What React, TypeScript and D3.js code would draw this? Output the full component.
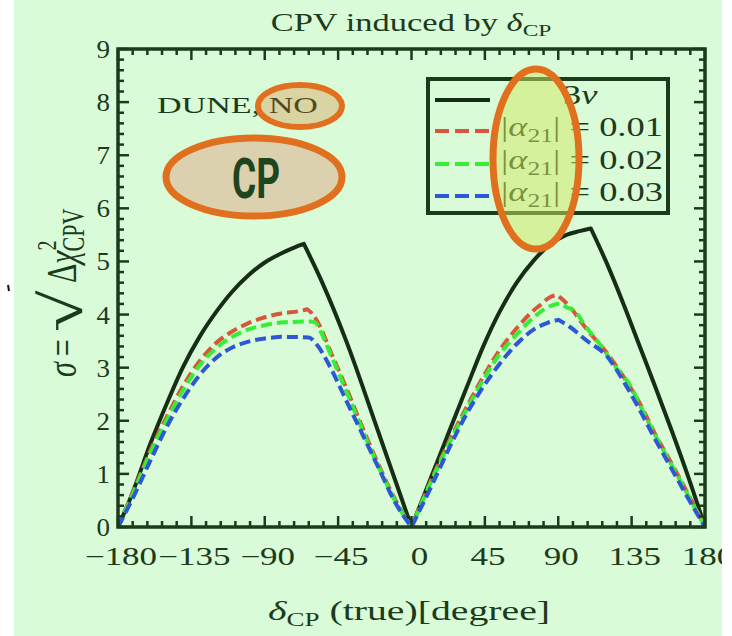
import React from 'react';
import * as d3 from 'd3';

// ---- data ----
const deltaBlack = [-180,-172,-160,-150,-140,-130,-120,-110,-100,-90,-80,-72,-66,-55,-40,-20,-10,0,13,23.5,34,44,54,64.5,75,85,95,103,110,120,130,140,150,160,170,180];
const sigmaBlack = [0,0.57,1.58,2.33,3.02,3.58,4.04,4.43,4.74,4.98,5.15,5.26,5.33,4.62,3.50,1.76,0.88,0,1.01,1.83,2.64,3.40,4.05,4.60,5.02,5.32,5.50,5.57,5.62,4.95,4.20,3.40,2.60,1.78,0.92,0];

const deltaA1 = [-180,-170,-160,-150,-140,-130,-120,-110,-100,-90,-80,-68,-64,-61,-56,-50,-40,-30,-20,-10,0,13,23.5,34,44,54,65,75,79,84,89,92,97,107,120,130,140,150,160,170,180];
const sigmaA1 = [0,0.72,1.45,2.08,2.66,3.12,3.46,3.68,3.84,3.95,4.02,4.07,4.10,4.02,3.77,3.33,2.62,1.87,1.16,0.52,0,0.95,1.64,2.27,2.83,3.33,3.76,4.08,4.18,4.31,4.37,4.30,4.15,3.74,3.27,2.83,2.33,1.72,1.17,0.60,0];

const deltaA2 = [-180,-170,-160,-150,-140,-130,-120,-110,-100,-90,-80,-62,-59,-56,-50,-40,-30,-20,-10,0,13,23.5,34,44,54,65,75,83,91,95,100,107,115,125,135,140,150,160,170,180];
const sigmaA2 = [0,0.68,1.40,2.02,2.58,3.04,3.36,3.58,3.72,3.80,3.85,3.87,3.85,3.70,3.28,2.56,1.82,1.12,0.49,0,0.92,1.60,2.22,2.77,3.25,3.64,3.95,4.13,4.21,4.14,4.07,3.77,3.46,3.02,2.62,2.30,1.70,1.14,0.58,0];

const deltaA3 = [-180,-170,-160,-150,-140,-130,-120,-110,-100,-90,-80,-63,-58,-50,-40,-30,-20,-10,0,13,23.5,34,44,54,65,75,83,90,97,107,120,132,140,150,160,170,180];
const sigmaA3 = [0,0.60,1.26,1.89,2.42,2.86,3.18,3.38,3.49,3.55,3.58,3.57,3.43,3.02,2.38,1.74,1.10,0.46,0,0.82,1.51,2.14,2.64,3.07,3.46,3.72,3.84,3.90,3.77,3.52,3.21,2.64,2.20,1.62,1.07,0.52,0];

const xTicks = [-180,-135,-90,-45,0,45,90,135,180];
const xTickLabels = ['\u2212180','\u2212135','\u221290','\u221245','0','45','90','135','180'];
const yTicks = [0,1,2,3,4,5,6,7,8,9];
const legendValues = ['0.01','0.02','0.03'];

const W = 732;
const H = 636;
const SERIF = '"Liberation Serif", "Times New Roman", serif';
const INK = '#1c3a1c';
const ORANGE = '#e0701e';

// split a curve into monotone pieces at zeros and local maxima (the kinks)
function pieces(dx: number[], sy: number[]): [number, number][][] {
  const out: [number, number][][] = [];
  let cur: [number, number][] = [];
  for (let i = 0; i < dx.length; i++) {
    cur.push([dx[i], sy[i]]);
    const isEnd = i === dx.length - 1;
    const isKink = !isEnd && i > 0 && (sy[i] === 0 || (sy[i] >= sy[i - 1] && sy[i] >= sy[i + 1]));
    if (isKink || isEnd) {
      out.push(cur);
      cur = [[dx[i], sy[i]]];
    }
  }
  return out;
}

export default function App() {
  const x = d3.scaleLinear().domain([-180, 180]).range([118, 705]);
  const y = d3.scaleLinear().domain([0, 9]).range([527, 49]);

  const gen = d3.line<[number, number]>().x(d => x(d[0])).y(d => y(d[1])).curve(d3.curveMonotoneX);
  const mk = (dx: number[], sy: number[]) => {
    const parts = pieces(dx, sy).map(p => gen(p) || '');
    return parts.map((p, i) => (i === 0 ? p : p.replace(/^M[^LC]*/, 'L' + p.match(/^M([^LC]*)/)![1]))).join('');
  };

  const series = [
    { name: '3\u03bd', d: mk(deltaBlack, sigmaBlack), color: '#162e16', dash: '' },
    { name: legendValues[0], d: mk(deltaA1, sigmaA1), color: '#d6583a', dash: '11 5' },
    { name: legendValues[1], d: mk(deltaA2, sigmaA2), color: '#36ee36', dash: '11 5' },
    { name: legendValues[2], d: mk(deltaA3, sigmaA3), color: '#2c58d6', dash: '11 5' },
  ];

  const minorX = d3.range(-180, 180.01, 9).filter(v => Math.abs(v % 45) > 1e-6);
  const minorY = d3.range(0, 9.001, 0.2).filter(v => Math.abs(v - Math.round(v)) > 1e-6);
  const [x0, x1] = x.range();
  const [yb, yt] = y.range();
  const ML = 11, mL = 6;

  const legendY = [100, 131, 164, 196];

  return (
    <svg width={W} height={H} style={{ position: 'absolute', left: 0, top: 0 }} fontFamily={SERIF}>
      <rect x={0} y={0} width={W} height={H} fill="#ffffff" />
      <rect x={14} y={0} width={708} height={636} fill="#d9fbd7" />

      {/* title */}
      <text transform="translate(411,31) scale(1.38,1)" textAnchor="middle" fontSize={25} fill={INK}>
        CPV induced by <tspan fontStyle="italic">δ</tspan><tspan fontSize={17} dy={5}>CP</tspan>
      </text>

      {/* curves */}
      <defs>
        <clipPath id="plotclip"><rect x={x0} y={yt} width={x1 - x0} height={yb - yt} /></clipPath>
      </defs>
      <g clipPath="url(#plotclip)">
        {series.map((s, i) => (
          <path key={i} d={s.d} fill="none" stroke={s.color} strokeWidth={4}
            strokeDasharray={s.dash || undefined} strokeLinejoin="round" />
        ))}
      </g>

      {/* frame + ticks */}
      <rect x={x0} y={yt} width={x1 - x0} height={yb - yt} fill="none" stroke={INK} strokeWidth={3.5} />
      <g stroke={INK} strokeWidth={2.5}>
        {xTicks.map(v => (
          <g key={'mx' + v}>
            <line x1={x(v)} x2={x(v)} y1={yb} y2={yb - ML} />
            <line x1={x(v)} x2={x(v)} y1={yt} y2={yt + ML} />
          </g>
        ))}
        {minorX.map(v => (
          <g key={'nx' + v}>
            <line x1={x(v)} x2={x(v)} y1={yb} y2={yb - mL} />
            <line x1={x(v)} x2={x(v)} y1={yt} y2={yt + mL} />
          </g>
        ))}
        {yTicks.map(v => (
          <g key={'my' + v}>
            <line x1={x0} x2={x0 + ML} y1={y(v)} y2={y(v)} />
            <line x1={x1} x2={x1 - ML} y1={y(v)} y2={y(v)} />
          </g>
        ))}
        {minorY.map(v => (
          <g key={'ny' + v}>
            <line x1={x0} x2={x0 + mL} y1={y(v)} y2={y(v)} />
            <line x1={x1} x2={x1 - mL} y1={y(v)} y2={y(v)} />
          </g>
        ))}
      </g>

      {/* tick labels */}
      {xTicks.map((v, i) => (
        <text key={'xl' + v} transform={`translate(${x(v) + (v === 0 ? 8 : 3)},565) scale(1.4,1)`}
          textAnchor="middle" fontSize={25} fill={INK}>{xTickLabels[i]}</text>
      ))}
      {yTicks.map(v => (
        <text key={'yl' + v} transform={`translate(110,${y(v) + 9}) scale(1.08,1)`}
          textAnchor="end" fontSize={25} fill={INK}>{v}</text>
      ))}

      {/* axis labels */}
      <text transform="translate(409,620) scale(1.42,1)" textAnchor="middle" fontSize={28} fill={INK}>
        <tspan fontStyle="italic">δ</tspan><tspan fontSize={19} dy={6}>CP</tspan><tspan dy={-6}> (true)[degree]</tspan>
      </text>
      <g transform="translate(76,377) scale(1.4,1) rotate(-90)" fill={INK}>
        <text x={0} y={0} fontSize={30}><tspan fontStyle="italic">σ</tspan><tspan dx={6}>=</tspan></text>
        <text transform="translate(45,4) scale(1.9,1.05)" fontSize={40} fontWeight="bold">√</text>
        <text x={94} y={0} fontSize={30}>Δ<tspan fontStyle="italic">χ</tspan><tspan fontSize={20} dy={-14}>2</tspan><tspan fontSize={22} dx={-11} dy={20}>CPV</tspan></text>
      </g>
      <line x1={8} y1={285} x2={9} y2={291} stroke="#111" strokeWidth={2} />

      {/* legend */}
      <rect x={428} y={79} width={240} height={134} fill="none" stroke={INK} strokeWidth={4} />
      {series.map((s, i) => (
        <g key={'lg' + i}>
          <line x1={435} x2={490} y1={legendY[i]} y2={legendY[i]} stroke={s.color} strokeWidth={4}
            strokeDasharray={s.dash ? '14 6' : undefined} />
          {i === 0 ? (
            <text transform={`translate(563,${legendY[i] + 4}) scale(1.35,1)`} fontSize={27} fill={INK}>
              3<tspan fontStyle="italic">ν</tspan>
            </text>
          ) : (
            <text transform={`translate(501,${legendY[i] + 5}) scale(1.35,1)`} fontSize={27} fill={INK}>
              |<tspan fontStyle="italic">α</tspan><tspan fontSize={19} dy={6}>21</tspan><tspan dy={-6}>| = {s.name}</tspan>
            </text>
          )}
        </g>
      ))}

      {/* annotations */}
      <text transform="translate(157,113) scale(1.42,1)" fontSize={24} fill={INK}>DUNE, NO</text>
      <ellipse cx={300} cy={106} rx={42} ry={21} fill={ORANGE} fillOpacity={0.28} stroke={ORANGE} strokeWidth={6} />
      <ellipse cx={254} cy={177} rx={88} ry={39} fill="#dcd1ae" stroke={ORANGE} strokeWidth={7} />
      <text x={256} y={198} textAnchor="middle" fontFamily="Roboto, sans-serif" fontWeight="bold" fontSize={56}
        textLength={48} lengthAdjust="spacingAndGlyphs" fill="#1e451e">CP</text>
      <ellipse cx={536} cy={159} rx={43} ry={90} fill="#d4e860" fillOpacity={0.5} stroke={ORANGE} strokeWidth={7} />

      {/* white page strip at the right edge */}
      <rect x={722} y={0} width={10} height={H} fill="#ffffff" />
    </svg>
  );
}
